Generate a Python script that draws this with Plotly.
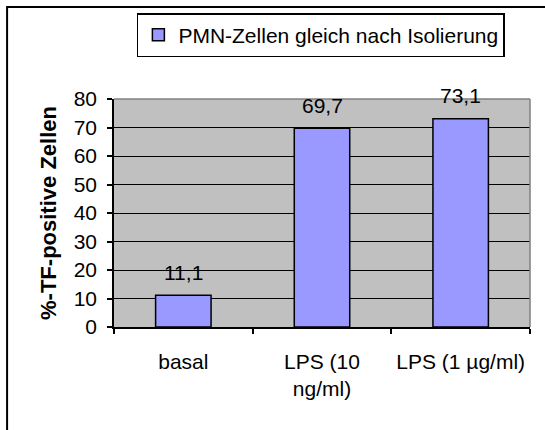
import plotly.graph_objects as go

categories = ["basal", "LPS (10<br>ng/ml)", "LPS (1 µg/ml)"]
values = [11.1, 69.7, 73.1]
value_labels = ["11,1", "69,7", "73,1"]
series_name = "PMN-Zellen gleich nach Isolierung"
y_ticks = [0, 10, 20, 30, 40, 50, 60, 70, 80]

FONT = "Arial, Liberation Sans, sans-serif"
FS = 21

fig = go.Figure()
fig.add_trace(go.Bar(
    x=categories, y=values, name=series_name,
    marker=dict(color="#9999FF", line=dict(color="black", width=1.5)),
    width=0.4, showlegend=True,
))

for c, v, t in zip(categories, values, value_labels):
    fig.add_annotation(x=c, y=v, text=t, showarrow=False, yanchor="middle",
                       yshift=23, font=dict(family=FONT, size=FS, color="black"))

fig.update_layout(
    width=545, height=430,
    margin=dict(l=114, r=15, t=99, b=103),
    paper_bgcolor="white", plot_bgcolor="#C0C0C0",
    font=dict(family=FONT, size=FS, color="black"),
    showlegend=True,
    legend=dict(x=0.055, y=1.377, xanchor="left", yanchor="top",
                bgcolor="white", bordercolor="black", borderwidth=1.5,
                font=dict(family=FONT, size=FS, color="black")),
    xaxis=dict(showline=True, linecolor="black", linewidth=1.5,
               ticks="outside", ticklen=5, tickwidth=1.5, tickcolor="black",
               tickson="boundaries", showgrid=False, ticklabelstandoff=15,
               tickfont=dict(family=FONT, size=FS)),
    yaxis=dict(range=[0, 80], tickvals=y_ticks, showline=True, linecolor="black",
               linewidth=1.5, ticks="outside", ticklen=5, tickwidth=1.5,
               tickcolor="black", showgrid=True, gridcolor="black", gridwidth=1,
               zeroline=False, ticklabelstandoff=6,
               tickfont=dict(family=FONT, size=FS),
               title=dict(text="<b>%-TF-positive Zellen</b>", standoff=11,
                          font=dict(family=FONT, size=22))),
    bargap=0.6,
)

# plot area border (top and right) in grey
fig.add_shape(type="line", xref="paper", yref="paper", x0=0, x1=1, y0=1, y1=1,
              line=dict(color="#808080", width=1.5))
fig.add_shape(type="line", xref="paper", yref="paper", x0=1, x1=1, y0=0, y1=1,
              line=dict(color="#808080", width=1.5))
# outer chart frame
fig.add_shape(type="rect", xref="paper", yref="paper", x0=-0.257, x1=1.2,
              y0=-0.7, y1=1.4035, line=dict(color="black", width=2),
              fillcolor="rgba(0,0,0,0)")

fig.write_html("out.html", config={"displayModeBar": False},
               post_script="document.body.style.margin='0';")
